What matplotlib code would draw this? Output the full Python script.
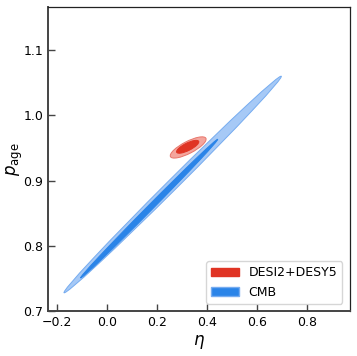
import numpy as np
import matplotlib.pyplot as plt
from matplotlib.patches import Ellipse, Patch
from matplotlib.transforms import Affine2D

# contour ellipses: centre (eta, p_age), half major axis vector, half minor axis vector
cmb_95_center = [0.262, 0.894]
cmb_95_major = [0.434, 0.166]
cmb_95_minor = [0.0150, -0.0058]
cmb_68_center = [0.168, 0.857]
cmb_68_major = [0.274, 0.1063]
cmb_68_minor = [0.0074, -0.0029]

desi_95_center = [0.324, 0.9508]
desi_95_major = [0.0708, 0.01408]
desi_95_minor = [0.0110, -0.0082]
desi_68_center = [0.322, 0.9518]
desi_68_major = [0.0440, 0.00840]
desi_68_minor = [0.0066, -0.0052]

labels = ['DESI2+DESY5', 'CMB']
x_ticks = [-0.2, 0.0, 0.2, 0.4, 0.6, 0.8]
y_ticks = [0.7, 0.8, 0.9, 1.0, 1.1]


def draw_contour(ax, c, a, b, face, edge, z):
    tr = Affine2D(np.array([[a[0], b[0], c[0]],
                            [a[1], b[1], c[1]],
                            [0, 0, 1]]))
    e = Ellipse((0, 0), 2, 2, facecolor=face, edgecolor=edge, lw=0.7,
                transform=tr + ax.transData, zorder=z)
    ax.add_patch(e)


fig = plt.figure(figsize=(3.57, 3.56), dpi=100)
ax = fig.add_axes([0.1345, 0.1264, 0.8455, 0.8536])

draw_contour(ax, cmb_95_center, cmb_95_major, cmb_95_minor, '#a6c9f6', '#76acf0', 2)
draw_contour(ax, cmb_68_center, cmb_68_major, cmb_68_minor, '#2a84e8', '#2a84e8', 3)
draw_contour(ax, desi_95_center, desi_95_major, desi_95_minor, '#f4a59d', '#e8766b', 4)
draw_contour(ax, desi_68_center, desi_68_major, desi_68_minor, '#e03424', '#e03424', 5)

ax.set_xlim(-0.236, 0.97)
ax.set_ylim(0.70, 1.166)
ax.set_xticks(x_ticks)
ax.set_yticks(y_ticks)
ax.tick_params(direction='in', length=5, width=1.0, labelsize=9, colors='#444444',
               labelcolor='black', top=False, right=False)
for s in ['left', 'bottom']:
    ax.spines[s].set_color('#444444')
    ax.spines[s].set_linewidth(1.4)
for s in ['top', 'right']:
    ax.spines[s].set_color('#222222')
    ax.spines[s].set_linewidth(0.9)

ax.set_xlabel(r'$\eta$', fontsize=12, labelpad=3)
ax.set_ylabel(r'$p_{\rm age}$', fontsize=12, labelpad=-1)

handles = [Patch(facecolor='#e03424', edgecolor='#e03424'),
           Patch(facecolor='#2a84e8', edgecolor='#76acf0')]
ax.legend(handles, labels, loc='lower right', fontsize=9, frameon=True,
          handlelength=2.2, borderaxespad=0.6)

fig.savefig('out.png', dpi=100)
